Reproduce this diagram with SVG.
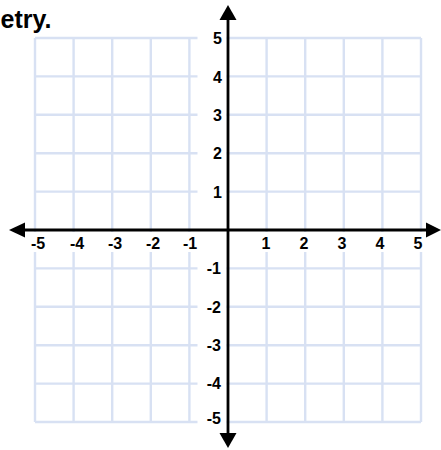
<svg xmlns="http://www.w3.org/2000/svg" width="441" height="450" viewBox="0 0 441 450">
<style>
.grid{stroke:#d8e1f3;stroke-width:2.4;fill:none}
.axis{stroke:#000;stroke-width:2.8;fill:none}
.lbl{font-family:"Liberation Sans",Arial,sans-serif;font-weight:bold;font-size:16px;fill:#000}
.yl{text-anchor:end}
.xl{text-anchor:middle}
.title{font-family:"Liberation Sans",Arial,sans-serif;font-weight:bold;font-size:25px;fill:#000}
</style>
<rect width="441" height="450" fill="#fff"/>
<text class="title" x="0.5" y="28">etry.</text>
<g id="grid">
<path class="grid" d="M35 38V422M73.6 38V422M112.2 38V422M150.8 38V422M189.4 38V422M266.6 38V422M305.2 38V422M343.8 38V422M382.4 38V422M421 38V422"/>
<path class="grid" d="M35 38H421M35 76.4H421M35 114.8H421M35 153.2H421M35 191.6H421M35 268.4H421M35 306.8H421M35 345.2H421M35 383.6H421M35 422H421"/>
<rect x="197.5" y="28" width="29" height="198" fill="#fff"/>
<rect x="197.5" y="234" width="29" height="198" fill="#fff"/>
<rect x="25" y="232" width="401" height="20" fill="#fff"/>
</g>
<g id="axes">
<path class="axis" d="M228 18V436M23 230H429"/>
<polygon points="228,5 219.5,20 236.5,20"/>
<polygon points="228,448 219.5,433 236.5,433"/>
<polygon points="9,230 25,222.5 25,237.5"/>
<polygon points="441,230 426,222.5 426,237.5"/>
</g>
<g id="y-labels" class="lbl yl">
<text x="222" y="44">5</text>
<text x="222" y="82.5">4</text>
<text x="222" y="121">3</text>
<text x="222" y="159">2</text>
<text x="222" y="197.5">1</text>
<text x="221" y="274">-1</text>
<text x="221" y="312.5">-2</text>
<text x="221" y="351">-3</text>
<text x="221" y="389">-4</text>
<text x="221" y="424">-5</text>
</g>
<g id="x-labels" class="lbl xl">
<text x="38" y="248.5">-5</text>
<text x="77" y="248.5">-4</text>
<text x="115" y="248.5">-3</text>
<text x="153" y="248.5">-2</text>
<text x="190" y="248.5">-1</text>
<text x="266" y="248.5">1</text>
<text x="304" y="248.5">2</text>
<text x="342" y="248.5">3</text>
<text x="380" y="248.5">4</text>
<text x="418" y="248.5">5</text>
</g>
</svg>
